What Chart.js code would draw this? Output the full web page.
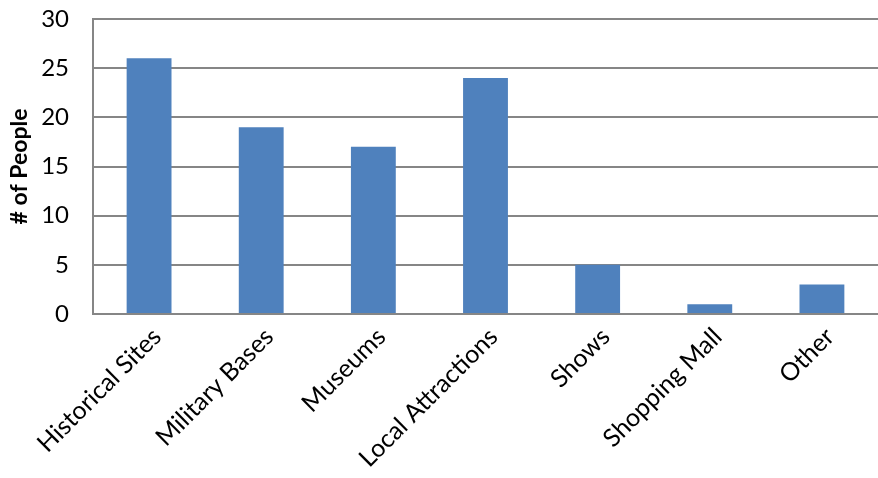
<!DOCTYPE html>
<html>
<head>
<meta charset="utf-8">
<script src="https://cdn.jsdelivr.net/npm/chart.js@4/dist/chart.umd.min.js"></script>
<style>
  html, body { margin: 0; padding: 0; background: #ffffff; }
  #wrap { width: 878px; height: 478px; }
</style>
</head>
<body>
<div id="wrap"><canvas id="chart"></canvas></div>
<script>
// data
const categories = ['Historical Sites', 'Military Bases', 'Museums', 'Local Attractions', 'Shows', 'Shopping Mall', 'Other'];
const people = [26, 19, 17, 24, 5, 1, 3];
const yTicks = [0, 5, 10, 15, 20, 25, 30];

const FONT = "Lato, 'Open Sans', sans-serif";

new Chart(document.getElementById('chart').getContext('2d'), {
  type: 'bar',
  data: {
    labels: categories,
    datasets: [{
      label: '# of People',
      data: people,
      backgroundColor: '#4F81BD',
      borderWidth: 0,
      barPercentage: 0.4,
      categoryPercentage: 1.0,
    }]
  },
  options: {
    responsive: true,
    maintainAspectRatio: false,
    animation: false,
    layout: { padding: { top: 0, right: 0, bottom: 0, left: 6 } },
    plugins: {
      legend: { display: false },
      tooltip: { enabled: false },
    },
    scales: {
      x: {
        grid: { display: false, drawTicks: false },
        border: { display: true, color: '#868686', width: 2 },
        ticks: {
          color: '#000000',
          font: { family: FONT, size: 25 },
          minRotation: 45,
          maxRotation: 45,
          padding: 8,
          labelOffset: 8,
        },
        // pin the plot area to the reference layout
        afterFit: (scale) => {
          scale.height = 164;
          scale.paddingLeft = 0;
          scale.paddingRight = 0;
        },
      },
      y: {
        min: 0,
        max: 30,
        afterBuildTicks: (axis) => { axis.ticks = yTicks.map(v => ({ value: v })); },
        grid: { color: '#868686', lineWidth: 2, drawTicks: false },
        border: { display: true, color: '#868686', width: 2 },
        ticks: {
          color: '#000000',
          font: { family: FONT, size: 24 },
          padding: 24,
        },
        title: {
          display: true,
          text: '# of People',
          color: '#000000',
          font: { family: FONT, size: 23, weight: 'bold' },
          padding: { top: 0, bottom: 4 },
        },
        afterFit: (scale) => {
          scale.width = 87;
          scale.paddingTop = 19;
          scale.paddingBottom = 0;
        },
      },
    },
  },
});
</script>
</body>
</html>
